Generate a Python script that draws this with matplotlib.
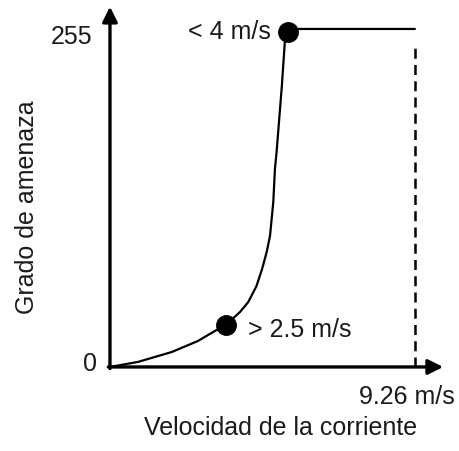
import matplotlib.pyplot as plt
import numpy as np

plt.rcParams['font.family'] = ['Liberation Sans', 'DejaVu Sans']

# curve (velocity m/s, threat grade)
vel = [0.0, 0.85, 1.88, 2.67, 3.19, 3.52, 3.95, 4.20, 4.45, 4.62, 4.76, 4.86, 4.96,
       5.01, 5.06, 5.14, 5.22, 5.31, 5.40, 5.62, 9.26]
grade = [0, 3.8, 11.3, 19.6, 27.2, 31.7, 41.5, 49.0, 61.1, 73.9, 86.8, 98.8, 124.5,
         149.4, 162.2, 187.1, 212, 245.2, 252.7, 255, 255]

# marked points
mark_vel = [3.52, 5.40]
mark_grade = [32, 253]
vmax = 9.26
gmax = 255

fig = plt.figure(figsize=(4.59, 4.52), dpi=100)
ax = fig.add_axes([0, 0, 1, 1])
ax.set_xlim(-3.34, 10.6)
ax.set_ylim(-63.4, 277.6)
ax.axis('off')

# axes with arrow heads
ax.annotate('', xy=(10.12, 0), xytext=(-0.05, 0),
            arrowprops=dict(arrowstyle='-|>,head_length=0.9,head_width=0.45', lw=2.4, color='black', shrinkA=0, shrinkB=0))
ax.annotate('', xy=(0, 271.8), xytext=(0, -1.2),
            arrowprops=dict(arrowstyle='-|>,head_length=0.9,head_width=0.45', lw=2.4, color='black', shrinkA=0, shrinkB=0))

ax.plot(vel, grade, color='black', lw=1.6, solid_capstyle='round', solid_joinstyle='round')
ax.plot([vmax, vmax], [0, 245], color='black', lw=1.8, ls=(0, (4, 2.5)))
ax.plot(mark_vel, mark_grade, 'o', color='black', ms=14)

fs = 18
tc = '#1a1a1a'
ax.text(-0.52, 250, str(gmax), ha='right', va='center', fontsize=fs, color=tc)
ax.text(-0.62, 3, '0', ha='center', va='center', fontsize=fs, color=tc)
ax.text(4.89, 253.5, '< 4 m/s', ha='right', va='center', fontsize=fs, color=tc)
ax.text(4.19, 29, '> 2.5 m/s', ha='left', va='center', fontsize=fs, color=tc)
ax.text(10.47, -22, f'{vmax} m/s', ha='right', va='center', fontsize=fs, color=tc)
ax.text(5.19, -45.5, 'Velocidad de la corriente', ha='center', va='center', fontsize=fs, color=tc)
ax.text(-2.52, 121.5, 'Grado de amenaza', ha='center', va='center', rotation=90, fontsize=fs, color=tc)

fig.savefig('out.png', dpi=100)
